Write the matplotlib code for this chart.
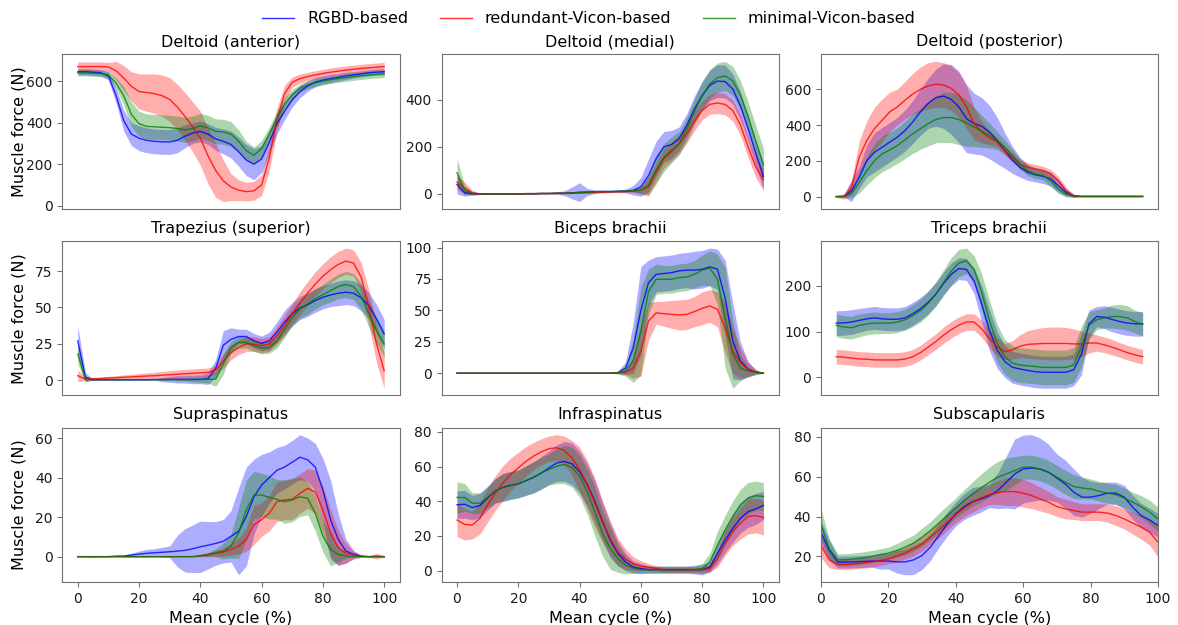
import numpy as np
import matplotlib
matplotlib.use("Agg")
import matplotlib.pyplot as plt

# mean cycle (%) sampled every 2.5 %
cycle = np.arange(0, 100.1, 2.5)

series_names = ["RGBD-based", "redundant-Vicon-based", "minimal-Vicon-based"]
series_colors = ["blue", "red", "green"]

# ---- Deltoid (anterior) ----
da_rgbd = [645, 645, 643, 640, 625, 530, 410, 345, 325, 315,
           310, 308, 307, 315, 335, 350, 358, 345, 322, 310,
           295, 260, 220, 200, 225, 305, 395, 455, 510, 550,
           576, 595, 605, 612, 618, 625, 630, 635, 640, 643, 645]
da_rgbd_sd = [15, 15, 15, 15, 20, 35, 50, 55, 60, 60,
              60, 60, 60, 60, 55, 50, 50, 50, 55, 60,
              65, 70, 75, 75, 65, 55, 50, 40, 35, 30,
              25, 22, 20, 20, 18, 18, 15, 15, 15, 15, 15]
da_rv = [670, 670, 670, 670, 668, 650, 615, 575, 550, 545,
         540, 530, 512, 475, 430, 380, 325, 240, 170, 120,
         90, 75, 68, 72, 100, 230, 415, 540, 595, 612,
         622, 630, 637, 643, 648, 653, 657, 661, 664, 667, 670]
da_rv_sd = [22, 22, 22, 22, 22, 45, 60, 70, 85, 90,
            95, 100, 105, 110, 115, 120, 130, 135, 130, 100,
            65, 50, 45, 45, 50, 60, 55, 40, 25, 22,
            20, 20, 20, 20, 20, 20, 20, 20, 20, 20, 20]
da_mv = [640, 640, 638, 636, 630, 590, 530, 440, 395, 382,
         380, 378, 376, 372, 365, 372, 385, 375, 358, 356,
         345, 310, 265, 243, 275, 345, 420, 490, 535, 565,
         582, 592, 600, 607, 612, 617, 622, 626, 630, 633, 635]
da_mv_sd = [15, 15, 15, 15, 15, 25, 45, 60, 60, 60,
            60, 60, 60, 60, 60, 60, 60, 60, 60, 60,
            60, 55, 45, 40, 40, 35, 35, 30, 25, 20,
            18, 18, 18, 18, 18, 18, 18, 18, 18, 18, 18]

# ---- Deltoid (medial) ----
dm_rgbd = [40, 5, 0, 0, 0, 0, 0, 0, 0, 1,
           1, 2, 2, 3, 3, 4, 7, 8, 9, 10,
           10, 11, 12, 15, 30, 78, 150, 200, 210, 235,
           292, 362, 418, 462, 480, 478, 446, 375, 278, 173, 74]
dm_rgbd_sd = [40, 15, 5, 3, 2, 2, 2, 2, 2, 2,
              2, 2, 2, 5, 10, 25, 40, 15, 8, 5,
              5, 5, 8, 20, 40, 70, 75, 65, 60, 50,
              50, 55, 60, 65, 70, 70, 65, 60, 55, 55, 55]
dm_rv = [50, 25, 5, 0, 0, 0, 0, 0, 0, 0,
         0, 1, 1, 2, 2, 3, 4, 5, 6, 7,
         8, 9, 10, 12, 15, 30, 92, 150, 180, 212,
         257, 310, 355, 381, 387, 381, 355, 294, 200, 115, 60]
dm_rv_sd = [30, 25, 10, 3, 2, 2, 2, 2, 2, 2,
            2, 2, 2, 2, 2, 2, 2, 2, 2, 2,
            2, 2, 3, 5, 15, 40, 40, 40, 40, 40,
            40, 40, 40, 42, 45, 45, 45, 45, 45, 45, 45]
dm_mv = [90, 15, 2, 0, 0, 0, 0, 0, 0, 1,
         1, 2, 2, 3, 3, 4, 6, 7, 9, 10,
         10, 11, 12, 13, 15, 38, 102, 155, 187, 215,
         275, 350, 418, 468, 495, 502, 481, 420, 330, 225, 124]
dm_mv_sd = [60, 20, 5, 3, 3, 3, 3, 3, 3, 3,
            3, 3, 3, 3, 3, 3, 3, 3, 3, 3,
            3, 3, 4, 5, 15, 40, 60, 60, 55, 50,
            50, 55, 60, 60, 62, 62, 62, 62, 62, 65, 70]

# ---- Deltoid (posterior) ----
dp_rgbd = [0, 2, 32, 107, 201, 248, 276, 305, 333, 370,
           418, 474, 521, 553, 562, 544, 502, 436, 408, 393,
           361, 314, 258, 205, 164, 135, 122, 113, 98, 60,
           23, 4, 1, 1, 1, 1, 1, 1, 1, 1, 1]
dp_rgbd_sd = [0, 5, 60, 60, 90, 110, 110, 110, 110, 115,
              120, 130, 140, 160, 180, 195, 200, 190, 170, 160,
              150, 130, 100, 75, 55, 45, 40, 40, 40, 35,
              20, 10, 2, 2, 2, 2, 2, 2, 2, 2, 2]
dp_rv = [0, 0, 51, 220, 314, 380, 427, 474, 502, 540,
         574, 600, 619, 628, 624, 606, 568, 502, 408, 361,
         329, 305, 258, 220, 179, 164, 154, 145, 126, 88,
         32, 4, 1, 1, 1, 1, 1, 1, 1, 1, 1]
dp_rv_sd = [5, 15, 40, 90, 110, 120, 120, 110, 100, 105,
            115, 125, 130, 128, 125, 125, 125, 120, 90, 60,
            40, 25, 25, 25, 25, 25, 25, 25, 25, 25,
            20, 8, 2, 2, 2, 2, 2, 2, 2, 2, 2]
dp_mv = [0, 0, 17, 79, 145, 201, 239, 261, 286, 318,
         352, 380, 408, 431, 442, 442, 431, 412, 389, 365,
         342, 314, 276, 229, 182, 145, 126, 117, 88, 41,
         13, 4, 1, 1, 1, 1, 1, 1, 1, 1, 1]
dp_mv_sd = [0, 5, 25, 60, 80, 95, 100, 100, 100, 105,
            110, 115, 125, 130, 140, 140, 140, 130, 110, 90,
            70, 50, 40, 35, 30, 28, 25, 25, 30, 25,
            15, 5, 1, 1, 1, 1, 1, 1, 1, 1, 1]

# ---- Trapezius (superior) ----
tr_rgbd = [27, 2, 0.3, 0.3, 0.3, 0.3, 0.3, 0.3, 0.3, 0.3,
           0.4, 0.4, 0.5, 0.5, 0.5, 0.5, 0.5, 1, 8, 24,
           28, 30, 30, 27, 25.3, 27, 33, 40, 45.5, 49.7,
           51.8, 54.7, 57, 58.6, 59.8, 60.5, 59.8, 56.6, 51.3, 42, 31.7]
tr_rgbd_sd = [10, 3, 0.5, 0.5, 0.5, 0.5, 0.5, 0.5, 0.5, 0.5,
              0.5, 1.5, 2, 2.5, 2.5, 3, 3, 4, 6, 10,
              8, 5, 5, 5, 5, 6, 7, 8, 8, 8,
              8, 8, 8, 8, 8.5, 8.5, 8.5, 9, 9, 10, 10]
tr_rv = [3, 0.7, 0.9, 1.1, 1.4, 1.6, 2.0, 2.2, 2.5, 2.8,
         3.0, 3.4, 3.7, 4.0, 4.4, 4.7, 5.0, 5.3, 7, 13,
         19, 22.5, 24.8, 24.8, 23.7, 24.8, 30.6, 37.5, 45.5, 52.9,
         59.8, 66, 71.5, 75.9, 79.6, 81.9, 80.5, 70.8, 50, 24.8, 6.4]
tr_rv_sd = [4, 1, 1, 1, 1.2, 1.4, 1.6, 1.8, 2, 2.2,
            2.4, 2.6, 2.8, 3, 3, 3, 3, 3, 3, 5,
            5, 5, 5, 5, 5, 5, 6, 7, 7, 8,
            8, 8.5, 8.5, 9, 9, 9, 9, 10, 12, 13, 12]
tr_mv = [18, 0.7, 0.3, 0.3, 0.3, 0.3, 0.3, 0.3, 0.3, 0.3,
         0.3, 0.3, 0.3, 0.3, 0.3, 0.3, 0.4, 0.5, 0.7, 11,
         22.5, 26, 26, 23.7, 22, 22.5, 27, 35, 43, 49,
         52.4, 55.9, 58.9, 61.6, 64.4, 65.8, 64.4, 57.5, 45.5, 34, 24.8]
tr_mv_sd = [7, 2, 0.3, 0.3, 0.3, 0.3, 0.3, 0.3, 0.3, 0.3,
            0.3, 0.3, 0.5, 0.8, 1, 1.5, 2, 2.5, 5, 7,
            4, 4, 4, 4, 4, 4, 5, 5.5, 6, 6.5,
            7, 7, 7, 8, 8.5, 9, 9, 9, 9, 9, 9]

# ---- Biceps brachii ----
bb_rgbd = [0, 0, 0, 0, 0, 0, 0, 0, 0, 0,
           0, 0, 0, 0, 0, 0, 0, 0, 0, 0,
           0, 0.5, 4, 20, 50, 72, 78.7, 79.3, 80, 81.4,
           82, 82, 82.7, 84.6, 82.7, 60, 25.5, 9.6, 3, 0.8, 0]
bb_rgbd_sd = [0, 0, 0, 0, 0, 0, 0, 0, 0, 0,
              0, 0, 0, 0, 0, 0, 0, 0, 0, 0,
              0, 1, 5, 20, 35, 18, 14, 14, 14, 14,
              14, 15, 15, 15, 16, 30, 30, 15, 6, 2, 0]
bb_rv = [0, 0, 0, 0, 0, 0, 0, 0, 0, 0,
         0, 0, 0, 0, 0, 0, 0, 0, 0, 0,
         0, 0.3, 0.8, 4, 17.6, 41.5, 48, 47.3, 46.8, 46.3,
         46.8, 49, 51.6, 53.5, 50.8, 36, 17.6, 8.2, 3, 1, 0]
bb_rv_sd = [0, 0, 0, 0, 0, 0, 0, 0, 0, 0,
            0, 0, 0, 0, 0, 0, 0, 0, 0, 0,
            0, 0.5, 2, 8, 20, 15, 9, 10, 11, 12,
            12, 12, 13, 13, 14, 20, 18, 12, 6, 2, 0]
bb_mv = [0, 0, 0, 0, 0, 0, 0, 0, 0, 0,
         0, 0, 0, 0, 0, 0, 0, 0, 0, 0,
         0, 0.3, 1.6, 9.6, 33.5, 65, 74.7, 74.7, 74.7, 76,
         76.6, 78.7, 82, 83.5, 74.7, 44, 15, 4, 1.6, 0.5, 0]
bb_mv_sd = [0, 0, 0, 0, 0, 0, 0, 0, 0, 0,
            0, 0, 0, 0, 0, 0, 0, 0, 0, 0,
            0, 1, 4, 17, 35, 18, 12, 11, 11, 11,
            11, 11, 12, 14, 20, 40, 27, 10, 4, 1, 0]

# ---- Triceps brachii ----
tb_rgbd = [118.7, 119, 121, 124.5, 128, 130, 128, 127, 127, 130,
           139, 150, 164, 182, 205, 225, 238, 236, 211, 160,
           103, 60, 34.5, 22, 18, 15, 12, 11, 11, 11,
           11, 16.5, 50, 117, 133, 131.6, 126.6, 122, 118.7, 117, 117]
tb_rgbd_sd = [27, 27, 27, 26, 25, 25, 25, 25, 25, 25,
              25, 25, 25, 25, 25, 25, 24, 24, 28, 40,
              45, 40, 35, 35, 35, 35, 35, 35, 35, 35,
              35, 35, 45, 30, 22, 25, 27, 27, 27, 27, 27]
tb_rv = [45, 44, 42, 40, 39.6, 38, 38, 38, 38, 40,
         45, 54, 66, 78, 92, 104, 114, 121, 121, 106,
         85, 67, 56, 60, 68, 72, 73, 74, 74, 74,
         74, 73, 73, 75, 75, 71, 66, 60, 54, 49, 45]
tb_rv_sd = [16, 16, 16, 16, 16, 16, 16, 16, 16, 16,
            16, 16, 17, 17, 18, 18, 18, 18, 18, 19,
            20, 20, 18, 20, 25, 30, 33, 35, 36, 36,
            35, 33, 28, 22, 18, 17, 17, 16, 16, 16, 16]
tb_mv = [113.7, 110, 108.6, 113.7, 117, 118.7, 118.7, 118.7, 121, 126,
         135, 146, 162, 182, 207, 232, 250, 255, 236, 186,
         124, 74, 45, 31, 26.6, 25, 23.7, 21.6, 21.6, 21.6,
         21.6, 27, 67, 113.7, 126, 130, 133, 133, 130, 122, 116]
tb_mv_sd = [25, 25, 25, 25, 24, 24, 23, 23, 23, 23,
            24, 25, 26, 27, 28, 30, 30, 28, 30, 40,
            45, 42, 38, 38, 38, 38, 38, 38, 38, 38,
            38, 38, 45, 30, 22, 22, 25, 27, 27, 25, 25]

# ---- Supraspinatus ----
sp_rgbd = [0, 0, 0, 0, 0, 0.3, 0.3, 0.8, 1.3, 1.7,
           2, 2.2, 2.5, 2.8, 3.2, 4, 5, 5.8, 6.7, 7.8,
           10.3, 12.8, 20.3, 30.3, 36.2, 40, 43.7, 45.3, 47.8, 50.3,
           49, 45.3, 33.7, 18.7, 8.7, 2.8, 1.2, 0.3, 0, 0, 0]
sp_rgbd_sd = [0, 0, 0, 0, 0, 0.3, 0.5, 1, 1.5, 2,
              2, 2.5, 3, 8, 11, 12, 13, 12, 11, 11,
              13, 22, 25, 19, 15.5, 13, 11.5, 11, 11, 11.4,
              11, 12, 16, 20, 13, 6, 2, 0.5, 0, 0, 0]
sp_rv = [0, 0, 0, 0, 0, 0, 0, 0, 0, 0,
         0, 0, 0, 0, 0, 0, 0.5, 1, 1.7, 2.3,
         3.7, 5.3, 8.7, 16.2, 18.7, 22, 27.8, 28.7, 29, 32,
         34.5, 32.8, 23.7, 12, 4.5, 1.7, 0.7, 0.2, 0, 0.3, 0]
sp_rv_sd = [0, 0, 0.5, 0, 0, 0, 0, 0, 0, 0,
            0, 0, 0, 0, 0, 0, 0.5, 1, 1.5, 2,
            3, 4, 6, 10, 8.4, 9, 10, 10, 10.3, 10,
            10, 11, 12, 12, 9, 5, 2, 0.5, 0.3, 1.5, 0.3]
sp_mv = [0, 0, 0, 0, 0, 0, 0, 0, 0, 0,
         0, 0, 0, 0, 0, 0, 0.5, 1, 2, 2.8,
         5.3, 12, 23.7, 31.2, 31.2, 30, 29, 27.8, 28.7, 30.3,
         29.5, 22, 10.3, 3.7, 1.2, 0.3, 0, 0, 0, 0, 0]
sp_mv_sd = [0, 0, 0, 0, 0, 0, 0, 0, 0, 0,
            0, 0, 0, 0, 0, 0, 0.5, 1, 2, 4,
            6, 13, 15, 12, 11, 11, 10, 11, 11, 10,
            8.3, 9, 8, 8.4, 4, 1, 0, 0, 0, 0, 0]

# ---- Infraspinatus ----
is_rgbd = [38, 38.3, 36.4, 37.6, 41.8, 46, 48, 49.2, 50, 51.9,
           53.8, 56.3, 59.2, 62, 63, 61.6, 57, 49.6, 40, 28.3,
           17.6, 9.9, 5, 2.1, 1.2, 0.6, 0.6, 0.6, 0.6, 0.6,
           0.6, 0.6, 0.6, 2.1, 9.9, 17.6, 24.4, 30.2, 34, 35.6, 37.6]
is_rgbd_sd = [8, 8, 7, 7, 7, 7, 8, 8, 8, 8.5,
              9, 9.5, 9.6, 10.5, 11.5, 12, 12, 12, 12, 11,
              10, 7, 5, 3.5, 3, 2, 2, 2, 2, 2,
              2, 2.5, 3, 3, 6, 7, 8, 8.5, 9, 9, 8]
is_rv = [29.2, 26.7, 26.3, 30.2, 38, 44.7, 50.5, 55.4, 59.2, 63,
         66, 68.5, 70.3, 70.9, 69.3, 65, 58.3, 49.6, 39, 28.3,
         18.6, 10.8, 6.6, 4, 2.7, 2.1, 1.2, 0.6, 0.6, 0.6,
         0.6, 0.6, 0.6, 1.2, 7, 15.7, 22.5, 27.3, 31.2, 31.8, 30.6]
is_rv_sd = [9.5, 9, 8, 9, 10, 10, 10, 9.5, 9, 8.5,
            8, 7.5, 7.3, 7.5, 8.3, 10, 13, 14, 14, 12,
            10, 8, 6, 4, 3, 2, 1.5, 1.5, 1.5, 1.5,
            1.5, 1.5, 1.5, 2, 5, 7, 8, 9, 10, 10, 10]
is_mv = [42.2, 42.2, 38.9, 38.9, 42.2, 46, 48, 49, 50, 51.9,
         53.8, 56.3, 58.3, 60.2, 61.2, 59.6, 54.4, 45.7, 34, 21.5,
         12.8, 7, 3.1, 1.5, 0.6, 0.6, 0.6, 0.6, 0.6, 0.6,
         0.6, 0.6, 1.2, 5, 14.7, 23.4, 31.2, 38, 41.8, 43.2, 42.8]
is_mv_sd = [9, 8, 6, 6, 6, 7, 8, 8, 8, 8.5,
            9, 9, 9, 10, 11, 11.5, 12, 13, 14, 13,
            12, 8, 5, 3, 2, 2, 2, 2, 2, 2,
            2, 2, 3, 5, 8, 8.5, 9, 9, 9, 8.5, 8]

# ---- Subscapularis ----
ss_rgbd = [32.2, 23, 17.2, 17.2, 17.3, 17.5, 17.7, 17.7, 17.7, 17.3,
           17.3, 18.3, 20.5, 24.7, 30.5, 36.3, 41.3, 45, 47.5, 48.8,
           50.5, 53, 57.2, 61.3, 63.8, 64.3, 63.8, 62.2, 59.3, 56.3,
           52.2, 49.7, 49.7, 50.5, 51.7, 51.7, 49.7, 44.7, 40.5, 38.3, 35.5]
ss_rgbd_sd = [6, 5, 3, 3, 3, 3, 3, 4, 4, 5.6,
              6.5, 7.3, 7, 6.7, 6, 6, 6, 6.5, 7, 6.5,
              6, 9, 13, 17.5, 17, 16.7, 15.5, 14, 12, 12,
              11.6, 10, 8, 6.5, 5.5, 5.5, 6, 6, 6, 6, 6]
ss_rv = [25.5, 18.3, 16, 16, 16.3, 16.7, 17.2, 18, 18.8, 20.2,
         21.7, 23.8, 26.3, 29.7, 33.3, 37.2, 41, 44.3, 47.2, 49.3,
         51, 52, 52.5, 52.5, 51.7, 50.5, 48.8, 47.2, 45, 43.8,
         43, 42.2, 42.2, 42.2, 41.7, 40.5, 38.8, 36.7, 34.7, 32.2, 27.2]
ss_rv_sd = [6, 4, 2.5, 2.5, 2.5, 2.5, 2.5, 2.5, 2.5, 3,
            3, 3.5, 3.5, 3.5, 4, 4, 4, 4.5, 5, 5,
            5, 6, 7, 7, 7, 6.5, 6, 5.5, 5, 5,
            4.5, 4.2, 4.2, 4.2, 4.5, 5, 5, 5.5, 6, 6.5, 7.5]
ss_mv = [36.3, 23.8, 18.3, 18.4, 18.8, 19.3, 20, 20.8, 21.7, 23,
         24.7, 26.7, 29.7, 33, 36.7, 40.5, 44.3, 48, 51.3, 54.3,
         57.2, 59.7, 61.3, 63, 64.7, 64.7, 63.8, 62.2, 59.7, 57.2,
         55, 54.3, 53.8, 52.7, 51.7, 51, 49.3, 47.2, 45, 42.2, 38.8]
ss_mv_sd = [7.5, 5, 3, 3, 3, 3, 3, 3, 3, 3.5,
            4, 4, 4.5, 4.5, 5, 5, 5, 5.5, 6, 7,
            7.5, 8, 8, 7, 6, 6, 6, 6, 6, 6,
            6, 5.5, 5, 5, 5, 5, 5, 5, 5.5, 6, 6]

titles = ["Deltoid (anterior)", "Deltoid (medial)", "Deltoid (posterior)",
          "Trapezius (superior)", "Biceps brachii", "Triceps brachii",
          "Supraspinatus", "Infraspinatus", "Subscapularis"]
yticks = [[0, 200, 400, 600], [0, 200, 400], [0, 200, 400, 600],
          [0, 25, 50, 75], [0, 25, 50, 75, 100], [0, 100, 200],
          [0, 20, 40, 60], [0, 20, 40, 60, 80], [20, 40, 60, 80]]

panels = [
    [(da_rgbd, da_rgbd_sd), (da_rv, da_rv_sd), (da_mv, da_mv_sd)],
    [(dm_rgbd, dm_rgbd_sd), (dm_rv, dm_rv_sd), (dm_mv, dm_mv_sd)],
    [(dp_rgbd, dp_rgbd_sd), (dp_rv, dp_rv_sd), (dp_mv, dp_mv_sd)],
    [(tr_rgbd, tr_rgbd_sd), (tr_rv, tr_rv_sd), (tr_mv, tr_mv_sd)],
    [(bb_rgbd, bb_rgbd_sd), (bb_rv, bb_rv_sd), (bb_mv, bb_mv_sd)],
    [(tb_rgbd, tb_rgbd_sd), (tb_rv, tb_rv_sd), (tb_mv, tb_mv_sd)],
    [(sp_rgbd, sp_rgbd_sd), (sp_rv, sp_rv_sd), (sp_mv, sp_mv_sd)],
    [(is_rgbd, is_rgbd_sd), (is_rv, is_rv_sd), (is_mv, is_mv_sd)],
    [(ss_rgbd, ss_rgbd_sd), (ss_rv, ss_rv_sd), (ss_mv, ss_mv_sd)],
]

plt.rcParams['axes.edgecolor'] = '0.45'
plt.rcParams['xtick.color'] = '0.45'
plt.rcParams['ytick.color'] = '0.45'
plt.rcParams['xtick.labelcolor'] = '0.1'
plt.rcParams['ytick.labelcolor'] = '0.1'

fig, axes = plt.subplots(3, 3, figsize=(11.78, 6.25), dpi=100)
fig.subplots_adjust(left=0.053, right=0.983, top=0.913, bottom=0.069,
                    wspace=0.125, hspace=0.21)

for i, (ax, title, series) in enumerate(zip(axes.flat, titles, panels)):
    for (mean, sd), color, name in zip(series, series_colors, series_names):
        m = np.array(mean, dtype=float)
        s = np.array(sd, dtype=float)
        ax.fill_between(cycle, m - s, m + s, color=color, alpha=0.32, lw=0)
        ax.plot(cycle, m, color=color, lw=1.0, alpha=0.8, label=name)
    ax.set_title(title, fontsize=11.5)
    ax.set_yticks(yticks[i])
    ax.tick_params(labelsize=10)
    if i % 3 == 0:
        ax.set_ylabel("Muscle force (N)", fontsize=11.5)
        ax.yaxis.set_label_coords(-0.108, 0.5)
    if i >= 6:
        ax.set_xticks([0, 20, 40, 60, 80, 100])
        ax.set_xlabel("Mean cycle (%)", fontsize=11.5)
    else:
        ax.set_xticks([])

axes[2, 2].set_xlim(0, 100)

handles, labels = axes[0, 0].get_legend_handles_labels()
fig.legend(handles, labels, loc='upper center', bbox_to_anchor=(0.5, 1.005),
           ncol=3, frameon=False, fontsize=11.5)

fig.savefig("out.png", dpi=100)
